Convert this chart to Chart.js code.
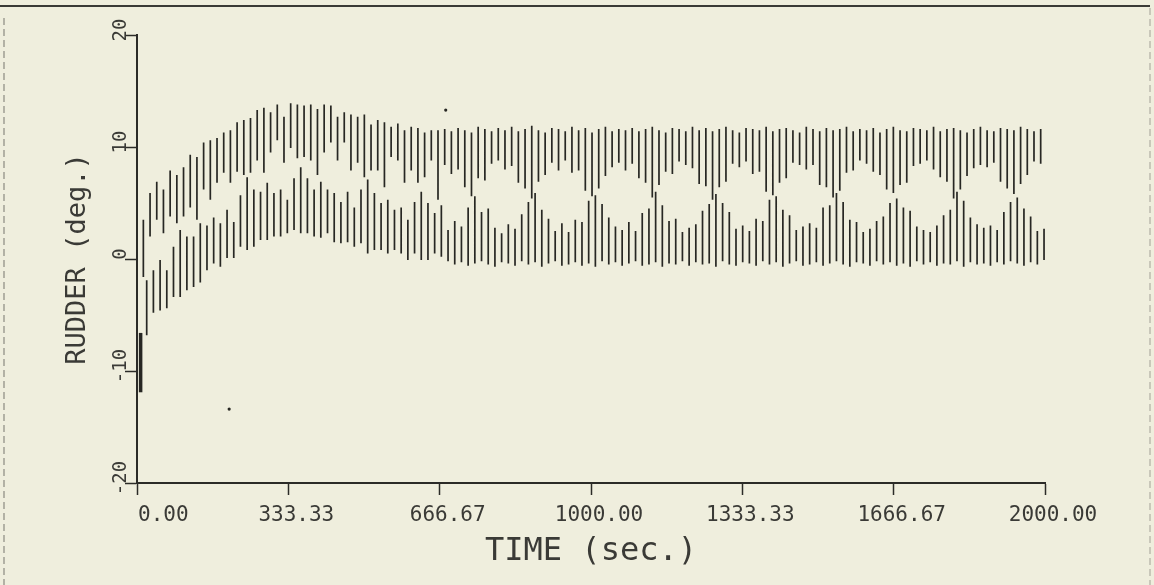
<!DOCTYPE html>
<html>
<head>
<meta charset="utf-8">
<script src="https://cdn.jsdelivr.net/npm/chart.js@4/dist/chart.umd.min.js"></script>
<style>
  html, body { margin: 0; padding: 0; background: #efeedd; }
  #wrap { width: 1154px; height: 585px; position: relative; }
</style>
</head>
<body>
<div id="wrap"><canvas id="c" width="1154" height="585"></canvas></div>
<script>
// ---------------- data ----------------
const xTickValues = [0, 333.33, 666.67, 1000, 1333.33, 1666.67, 2000];
const yTickValues = [-20, -10, 0, 10, 20];
const xTitle = 'TIME (sec.)';
const yTitle = 'RUDDER (deg.)';

// initial heavy stroke at start of run
const initialTime = 8;
const initialRange = [-11.9, -6.6];

// rudder swings: one upper stroke and one lower stroke per cycle
const firstCycleTime = 14;
const cyclePeriod = 14.75;

const upperTop = [
  3.5, 5.9, 6.9, 6.2, 7.9, 7.5, 8.2, 9.3, 9.1, 10.4, 10.6, 10.8, 11.3, 11.5, 12.2,
  12.4, 12.6, 13.3, 13.5, 13.1, 13.8, 12.7, 13.9, 13.8, 13.7, 13.8, 13.4, 13.8, 13.7, 12.7,
  13.1, 12.9, 12.7, 12.9, 12.0, 12.4, 12.2, 11.8, 12.1, 11.5, 11.8, 11.7, 11.3, 11.5, 11.5,
  11.6, 11.4, 11.7, 11.5, 11.3, 11.8, 11.6, 11.4, 11.7, 11.5,
  11.8, 11.4, 11.6, 11.9, 11.5, 11.3, 11.7, 11.6, 11.4, 11.8,
  11.5, 11.7, 11.3, 11.6, 11.8, 11.4, 11.6, 11.5, 11.7, 11.4,
  11.6, 11.8, 11.5, 11.3, 11.7, 11.6, 11.4, 11.8, 11.5, 11.7,
  11.4, 11.6, 11.8, 11.5, 11.3, 11.7, 11.6, 11.5, 11.8, 11.4,
  11.6, 11.7, 11.5, 11.3, 11.8, 11.6, 11.4, 11.7, 11.5, 11.6,
  11.8, 11.4, 11.6, 11.5, 11.7, 11.3, 11.6, 11.8, 11.5, 11.4,
  11.7, 11.6, 11.5, 11.8, 11.4, 11.6, 11.7, 11.5, 11.3, 11.6,
  11.8, 11.5, 11.4, 11.7, 11.6, 11.5, 11.8, 11.6, 11.4, 11.6
];
const upperBottom = [
  -1.6, 2.0, 3.5, 2.3, 3.8, 3.2, 3.8, 4.6, 3.5, 6.2, 5.3, 6.8, 7.7, 6.8, 7.8,
  7.5, 7.7, 8.8, 7.7, 9.5, 10.6, 8.6, 9.9, 9.0, 9.1, 8.8, 7.5, 9.5, 10.4, 8.8,
  10.4, 7.9, 8.6, 7.3, 7.9, 7.9, 6.4, 9.1, 8.8, 6.8, 7.9, 6.8, 7.3, 8.8, 5.3,
  8.4, 7.6, 8.0, 6.4, 5.6, 7.2, 7.0, 8.5, 8.8,
  8.0, 8.3, 6.8, 6.3, 5.4, 6.9, 7.5, 8.6, 7.9,
  8.8, 7.7, 7.9, 6.1, 5.6, 6.3, 7.4, 8.2, 8.6,
  7.9, 8.5, 7.2, 6.8, 5.5, 6.6, 7.8, 7.6, 8.7,
  8.4, 8.1, 6.7, 6.5, 5.3, 6.4, 6.9, 8.5, 8.2,
  8.7, 7.6, 7.8, 6.0, 5.7, 6.8, 7.2, 8.6, 8.4,
  8.0, 8.4, 6.6, 6.4, 5.5, 6.1, 7.7, 7.9, 8.8,
  8.5, 7.8, 7.5, 6.2, 5.9, 6.6, 6.8, 8.3, 8.5,
  8.8, 8.0, 7.3, 6.9, 5.4, 6.2, 7.4, 8.1, 8.4,
  8.2, 8.6, 6.9, 6.3, 5.8, 6.7, 7.5, 8.7, 8.5
];
const lowerBottom = [
  -6.8, -4.8, -4.6, -4.4, -3.4, -3.4, -2.8, -2.5, -2.1, -1.0, -0.4, -0.7, 0.1, 0.1, 1.1,
  0.8, 1.1, 1.7, 1.7, 2.0, 2.0, 2.3, 2.6, 2.3, 2.3, 2.0, 1.9, 2.3, 1.5, 1.4,
  1.5, 1.1, 1.4, 0.5, 0.8, 0.8, 0.5, 0.8, 0.5, -0.1, 0.5, -0.1, -0.1, 0.5, 0.2,
  -0.2, -0.5, -0.3, -0.6, -0.4, -0.2, -0.5, -0.7, -0.3,
  -0.4, -0.6, -0.2, -0.5, -0.3, -0.7, -0.4, -0.2, -0.6,
  -0.5, -0.3, -0.6, -0.4, -0.7, -0.2, -0.5, -0.3, -0.6,
  -0.4, -0.2, -0.6, -0.5, -0.3, -0.7, -0.4, -0.5, -0.2,
  -0.6, -0.3, -0.5, -0.4, -0.7, -0.2, -0.5, -0.6, -0.3,
  -0.4, -0.6, -0.2, -0.5, -0.3, -0.7, -0.4, -0.2, -0.6,
  -0.5, -0.3, -0.6, -0.4, -0.2, -0.5, -0.7, -0.3, -0.4,
  -0.6, -0.2, -0.5, -0.3, -0.6, -0.4, -0.7, -0.2, -0.5,
  -0.3, -0.6, -0.4, -0.5, -0.2, -0.7, -0.3, -0.5, -0.4,
  -0.6, -0.3, -0.5, -0.2, -0.4, -0.6, -0.3, -0.5, -0.1
];
const lowerTop = [
  -1.9, -1.0, -0.1, -1.0, 1.1, 2.6, 2.0, 2.0, 3.2, 3.0, 3.7, 3.2, 4.4, 3.3, 5.7,
  7.3, 6.2, 6.0, 6.8, 5.9, 6.2, 5.3, 7.2, 8.2, 7.2, 6.2, 6.9, 6.2, 5.9, 5.1,
  6.0, 4.6, 6.2, 7.1, 5.9, 5.0, 5.3, 4.4, 4.6, 3.5, 5.1, 6.0, 5.0, 4.1, 4.8,
  2.6, 3.4, 2.9, 4.6, 5.6, 4.2, 4.5, 2.8, 2.3,
  3.1, 2.7, 4.0, 5.1, 5.9, 4.4, 3.6, 2.5, 3.2,
  2.4, 3.5, 3.3, 5.2, 5.7, 4.9, 3.7, 2.9, 2.6,
  3.3, 2.5, 4.1, 4.5, 6.0, 4.8, 3.4, 3.6, 2.4,
  2.8, 3.1, 4.3, 4.9, 5.8, 5.0, 4.2, 2.7, 3.0,
  2.5, 3.6, 3.4, 5.3, 5.6, 4.4, 3.9, 2.6, 2.9,
  3.2, 2.8, 4.6, 4.8, 5.9, 5.1, 3.5, 3.3, 2.4,
  2.7, 3.4, 3.8, 5.0, 5.4, 4.6, 4.3, 2.9, 2.6,
  2.4, 3.0, 3.9, 4.4, 6.0, 5.2, 3.7, 3.1, 2.8,
  3.0, 2.6, 4.2, 5.1, 5.5, 4.5, 3.8, 2.5, 2.7
];

// stray plotter marks
const speckTimes = [203, 680];
const speckValues = [-13.4, 13.3];

// ---------------- build datasets from the arrays ----------------
const upperPts = [], lowerPts = [];
upperTop.forEach((top, i) => {
  const t = firstCycleTime + i * cyclePeriod;
  upperPts.push({x: t, y: top}, {x: t, y: upperBottom[i]}, {x: t, y: null});
  const t2 = t + cyclePeriod / 2;
  lowerPts.push({x: t2, y: lowerBottom[i]}, {x: t2, y: lowerTop[i]}, {x: t2, y: null});
});
const initialPts = [{x: initialTime, y: initialRange[0]}, {x: initialTime, y: initialRange[1]}];
const speckPts = speckTimes.map((t, i) => ({x: t, y: speckValues[i]}));

const INK = '#272723';
const AXIS = '#2b2b27';
const TEXT = '#3a3a36';
const FONT = '"DejaVu Sans Mono", monospace';

const paperPlugin = {
  id: 'paper',
  beforeDraw(chart) {
    const ctx = chart.ctx;
    ctx.save();
    ctx.fillStyle = '#efeedd';
    ctx.fillRect(0, 0, chart.width, chart.height);
    ctx.restore();
  },
  afterDraw(chart) {
    const ctx = chart.ctx;
    const xs = chart.scales.x, ys = chart.scales.y;
    ctx.save();
    // page frame
    ctx.strokeStyle = '#3a3a36';
    ctx.lineWidth = 2;
    ctx.beginPath(); ctx.moveTo(0, 6); ctx.lineTo(1150, 6); ctx.stroke();
    ctx.strokeStyle = '#8a8a80';
    ctx.lineWidth = 1.2;
    ctx.setLineDash([7, 4]);
    ctx.beginPath(); ctx.moveTo(4, 18); ctx.lineTo(4, 585); ctx.stroke();
    ctx.strokeStyle = '#b0afa2';
    ctx.beginPath(); ctx.moveTo(1150, 8); ctx.lineTo(1150, 585); ctx.stroke();
    ctx.setLineDash([]);

    // x tick labels
    ctx.fillStyle = TEXT;
    ctx.font = '21px ' + FONT;
    ctx.textBaseline = 'alphabetic';
    xTickValues.forEach((v, i) => {
      const px = xs.getPixelForValue(v);
      const label = v.toFixed(2);
      if (i === 0) { ctx.textAlign = 'left'; ctx.fillText(label, px + 1, 521); }
      else { ctx.textAlign = 'center'; ctx.fillText(label, px + 8, 521); }
    });

    // y tick labels (rotated)
    ctx.font = '19px ' + FONT;
    ctx.textAlign = 'center';
    ctx.textBaseline = 'middle';
    yTickValues.forEach(v => {
      const py = ys.getPixelForValue(v);
      ctx.save();
      ctx.translate(121, py - 5);
      ctx.rotate(-Math.PI / 2);
      ctx.fillText(String(v), 0, 0);
      ctx.restore();
    });
    ctx.restore();
  }
};

new Chart(document.getElementById('c'), {
  type: 'scatter',
  data: {
    datasets: [
      { label: 'initial', data: initialPts, showLine: true, borderColor: INK, borderWidth: 3.5,
        pointRadius: 0, spanGaps: false },
      { label: 'upper', data: upperPts, showLine: true, borderColor: INK, borderWidth: 1.7,
        pointRadius: 0, spanGaps: false },
      { label: 'lower', data: lowerPts, showLine: true, borderColor: INK, borderWidth: 1.7,
        pointRadius: 0, spanGaps: false },
      { label: 'specks', data: speckPts, showLine: false, pointRadius: 1.6,
        backgroundColor: INK, borderWidth: 0 }
    ]
  },
  options: {
    responsive: false,
    animation: false,
    events: [],
    layout: { padding: { left: 0, top: 35, right: 109, bottom: 0 } },
    plugins: { legend: { display: false }, tooltip: { enabled: false } },
    scales: {
      x: {
        type: 'linear', min: 0, max: 2000,
        afterBuildTicks: s => { s.ticks = xTickValues.map(v => ({ value: v })); },
        ticks: { display: false },
        grid: { drawOnChartArea: false, drawTicks: true, tickLength: 12, tickColor: AXIS, tickWidth: 1.5 },
        border: { display: true, color: AXIS, width: 2 },
        title: { display: true, text: xTitle, color: TEXT,
                 font: { family: FONT, size: 32 }, padding: { top: 0, bottom: 14 } },
        afterFit: s => { s.height = 102; }
      },
      y: {
        type: 'linear', min: -20, max: 20,
        afterBuildTicks: s => { s.ticks = yTickValues.map(v => ({ value: v })); },
        ticks: { display: false },
        grid: { drawOnChartArea: false, drawTicks: true, tickLength: 12, tickColor: AXIS, tickWidth: 1.5 },
        border: { display: true, color: AXIS, width: 2 },
        title: { display: true, text: yTitle, color: TEXT,
                 font: { family: FONT, size: 27 }, padding: { top: 62, bottom: 0 } },
        afterFit: s => { s.width = 137; }
      }
    }
  },
  plugins: [paperPlugin]
});
</script>
</body>
</html>
